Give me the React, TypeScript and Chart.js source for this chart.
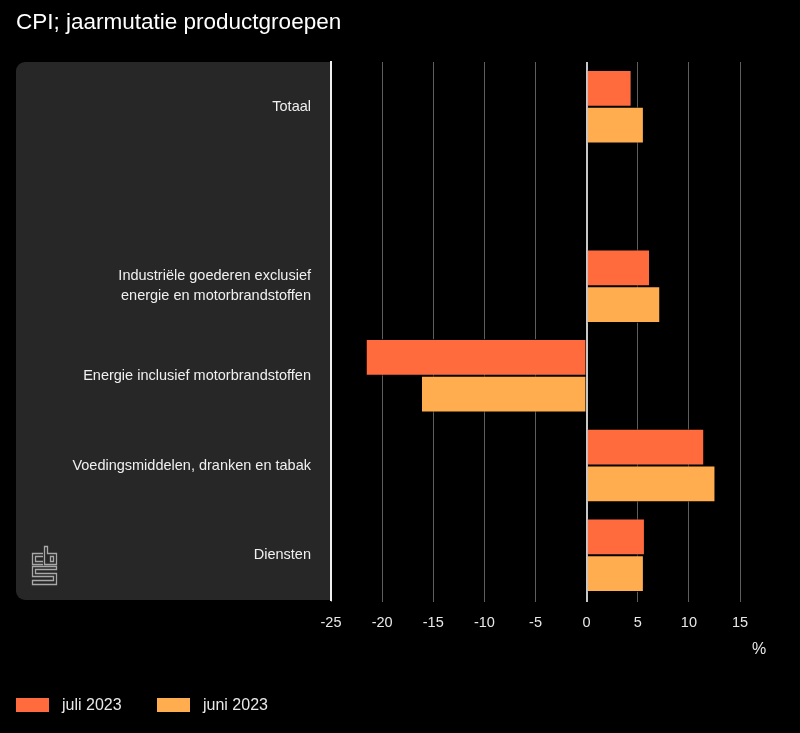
import React, { useEffect, useRef } from "react";
import { Chart, registerables } from "chart.js";

Chart.register(...registerables);

const TITLE = "CPI; jaarmutatie productgroepen";
const categories: (string | string[])[] = [
  "Totaal",
  "",
  ["Industriële goederen exclusief", "energie en motorbrandstoffen"],
  "Energie inclusief motorbrandstoffen",
  "Voedingsmiddelen, dranken en tabak",
  "Diensten",
];
const seriesNames = ["juli 2023", "juni 2023"];
const juli = [4.4, null, 6.2, -21.6, 11.5, 5.7];
const juni = [5.6, null, 7.2, -16.2, 12.6, 5.6];
const xMin = -25;
const xMax = 15;
const xStep = 5;
const unitLabel = "%";

const COL_JULI = "#ff6b3d";
const COL_JUNI = "#ffad4f";
const FONT = "'Liberation Sans', Arial, sans-serif";

const decorPlugin = {
  id: "decor",
  beforeDraw(chart: any) {
    const { ctx, chartArea } = chart;
    ctx.save();
    ctx.fillStyle = "#000";
    ctx.fillRect(0, 0, chart.width, chart.height);
    // panel
    const x0 = 16, y0 = chartArea.top, x1 = chartArea.left, y1 = chartArea.bottom;
    ctx.fillStyle = "#272727";
    ctx.beginPath();
    ctx.roundRect(x0, y0, x1 - x0, y1 - y0, [9, 0, 0, 9]);
    ctx.fill();
    // logo (approximation)
    ctx.strokeStyle = "#a8a8a8";
    ctx.lineWidth = 1.3;
    ctx.beginPath();
    // c
    ctx.moveTo(43, 553.5); ctx.lineTo(32.5, 553.5); ctx.lineTo(32.5, 564.5); ctx.lineTo(43, 564.5);
    ctx.moveTo(43, 556.5); ctx.lineTo(35.5, 556.5); ctx.lineTo(35.5, 561.5); ctx.lineTo(43, 561.5);
    // b
    ctx.moveTo(44.5, 546.5); ctx.lineTo(47.5, 546.5); ctx.lineTo(47.5, 553.5); ctx.lineTo(56.5, 553.5);
    ctx.lineTo(56.5, 564.5); ctx.lineTo(44.5, 564.5); ctx.closePath();
    ctx.rect(50.5, 556.5, 3, 5);
    // S
    ctx.moveTo(56.5, 566.5); ctx.lineTo(32.5, 566.5); ctx.lineTo(32.5, 576.5); ctx.lineTo(53.5, 576.5);
    ctx.lineTo(53.5, 580.5); ctx.lineTo(32.5, 580.5); ctx.lineTo(32.5, 584.5); ctx.lineTo(56.5, 584.5);
    ctx.lineTo(56.5, 573.5); ctx.lineTo(35.5, 573.5); ctx.lineTo(35.5, 569.5); ctx.lineTo(56.5, 569.5); ctx.closePath();
    ctx.stroke();
    ctx.restore();
  },
  afterDraw(chart: any) {
    const { ctx } = chart;
    ctx.save();
    ctx.fillStyle = "#fff";
    ctx.textBaseline = "middle";
    ctx.textAlign = "left";
    ctx.font = `22.5px ${FONT}`;
    ctx.fillText(TITLE, 16, 23);
    ctx.font = `16px ${FONT}`;
    ctx.fillStyle = "#e8e8e8";
    ctx.textAlign = "center";
    ctx.fillText(unitLabel, 759, 650);
    // legend
    const items = [
      { x: 16, text: seriesNames[0], color: COL_JULI },
      { x: 157, text: seriesNames[1], color: COL_JUNI },
    ];
    ctx.textAlign = "left";
    for (const it of items) {
      ctx.fillStyle = it.color;
      ctx.fillRect(it.x, 698, 33, 14);
      ctx.fillStyle = "#e8e8e8";
      ctx.fillText(it.text, it.x + 46, 706);
    }
    ctx.restore();
  },
};

export default function App() {
  const ref = useRef<HTMLCanvasElement>(null);
  useEffect(() => {
    document.body.style.margin = "0";
    document.body.style.background = "#000";
    const chart = new Chart(ref.current!, {
      type: "bar",
      data: {
        labels: categories as any,
        datasets: [
          {
            label: seriesNames[0],
            data: juli as any,
            backgroundColor: COL_JULI,
            borderColor: "rgba(0,0,0,0.75)",
            borderWidth: 1,
            categoryPercentage: 0.82,
            barPercentage: 1,
          },
          {
            label: seriesNames[1],
            data: juni as any,
            backgroundColor: COL_JUNI,
            borderColor: "rgba(0,0,0,0.75)",
            borderWidth: 1,
            categoryPercentage: 0.82,
            barPercentage: 1,
          },
        ],
      },
      options: {
        indexAxis: "y",
        animation: false,
        responsive: false,
        maintainAspectRatio: false,
        layout: { padding: { top: 62, right: 60, bottom: 93, left: 0 } },
        plugins: { legend: { display: false }, tooltip: { enabled: false }, title: { display: false } },
        scales: {
          x: {
            min: xMin,
            max: xMax,
            ticks: { stepSize: xStep, color: "#e8e8e8", font: { family: FONT, size: 14.5 }, padding: 12 },
            grid: {
              color: (c: any) => (c.tick && c.tick.value === 0 ? "#c8c8c8" : "#5e5e5e"),
              lineWidth: (c: any) => (c.tick && c.tick.value === 0 ? 2 : 1),
              tickLength: 2,
            },
            border: { display: false },
            afterFit: (s: any) => { s.height = 40; },
          },
          y: {
            ticks: { color: "#f0f0f0", font: { family: FONT, size: 14.5, lineHeight: 1.38 }, padding: 12 },
            grid: { display: false },
            border: { display: true, color: "#f0f0f0", width: 2 },
            afterFit: (s: any) => { s.width = 331; },
          },
        },
      },
      plugins: [decorPlugin],
    });
    return () => chart.destroy();
  }, []);
  return (
    <div style={{ position: "fixed", left: 0, top: 0, width: 800, height: 733, background: "#000" }}>
      <canvas ref={ref} width={800} height={733} style={{ width: 800, height: 733, display: "block" }} />
    </div>
  );
}
